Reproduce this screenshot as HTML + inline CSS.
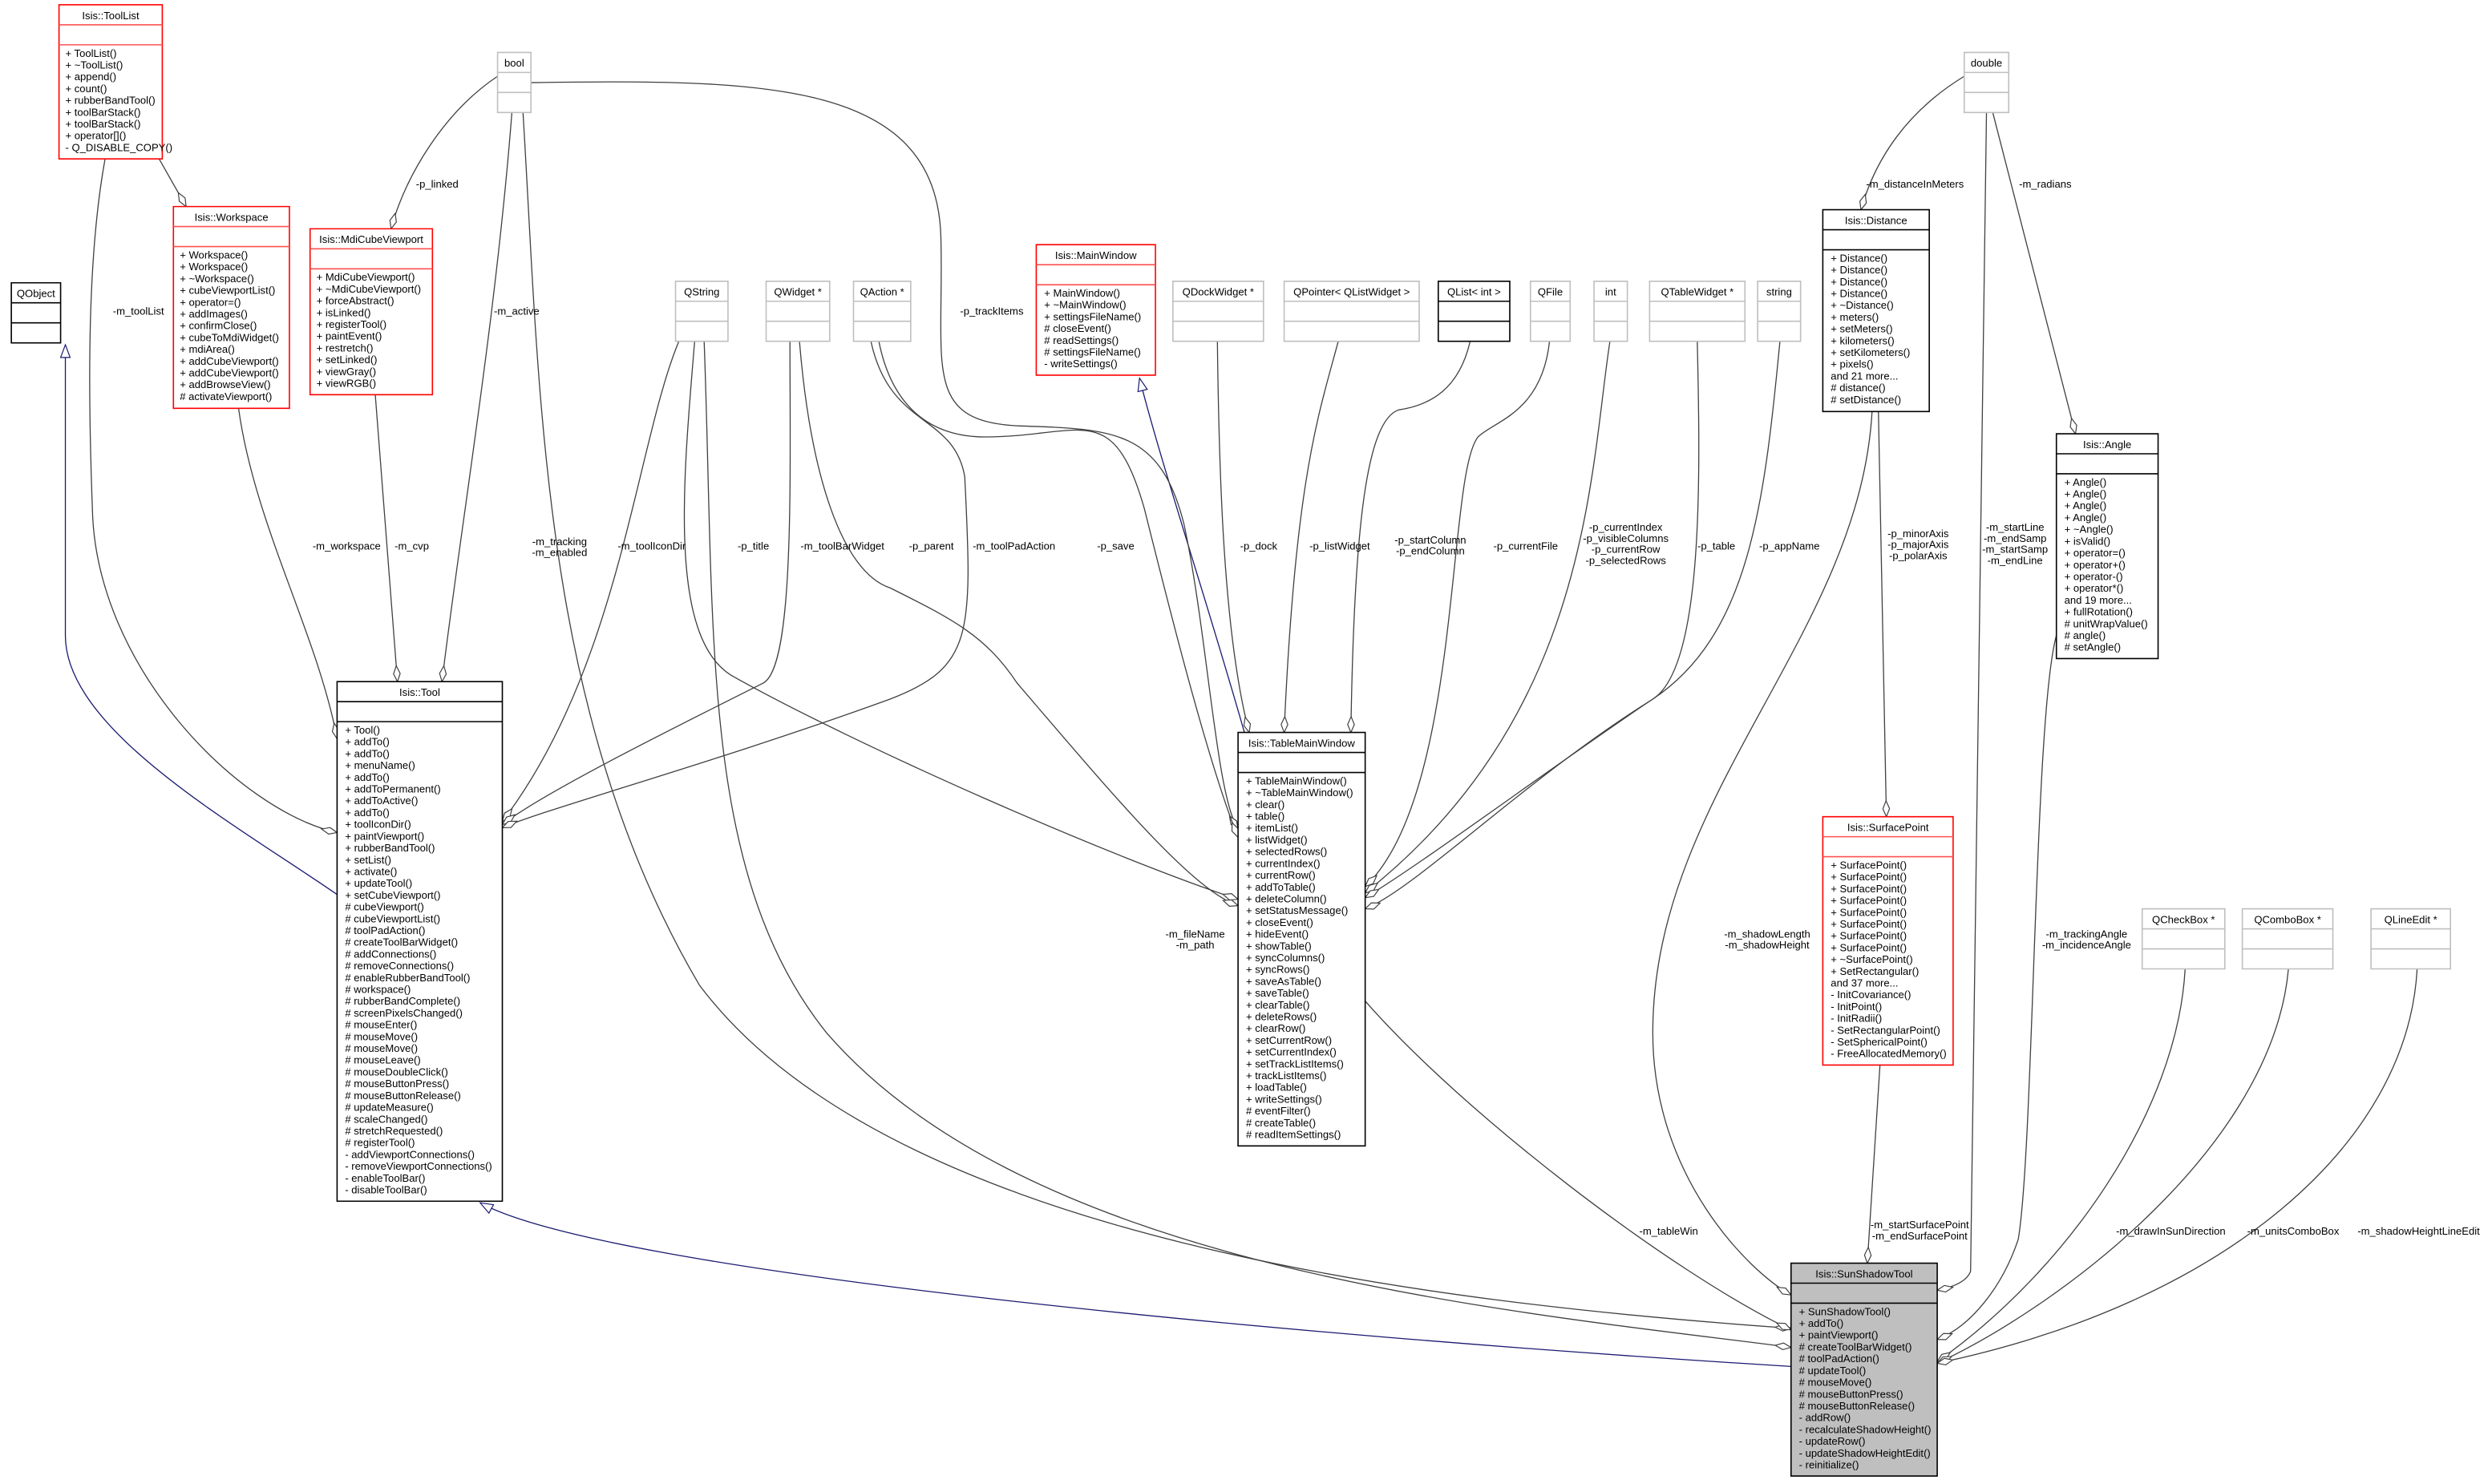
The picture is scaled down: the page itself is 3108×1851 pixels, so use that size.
<!DOCTYPE html>
<html><head><meta charset="utf-8"><style>
html,body{margin:0;padding:0;background:#fff;}
svg{display:block;}
text{font-family:"Liberation Sans",sans-serif;font-size:6.6px;fill:#000;}
.e{fill:none;stroke:#404040;stroke-width:1.3;vector-effect:non-scaling-stroke;}
.n{fill:none;stroke:#191970;stroke-width:1.3;vector-effect:non-scaling-stroke;}
.bk{fill:#fff;stroke:#000;stroke-width:1.6;vector-effect:non-scaling-stroke;}
.rd{fill:#fff;stroke:#ff0000;stroke-width:1.6;vector-effect:non-scaling-stroke;}
.gy{fill:#fff;stroke:#bfbfbf;stroke-width:1.6;vector-effect:non-scaling-stroke;}
.lk{stroke:#000;stroke-width:1.6;vector-effect:non-scaling-stroke;}
.lr{stroke:#ff5050;stroke-width:1.6;vector-effect:non-scaling-stroke;}
.lg{stroke:#bfbfbf;stroke-width:1.6;vector-effect:non-scaling-stroke;}
.c{text-anchor:middle;}
</style></head><body>
<svg width="3108" height="1851" viewBox="0 0 1568 934" xmlns="http://www.w3.org/2000/svg">
<defs>
<marker id="d" markerUnits="userSpaceOnUse" markerWidth="12" markerHeight="6" refX="11" refY="3" orient="auto"><path d="M1,3 L6,0.9 L11,3 L6,5.1 Z" fill="#fff" stroke="#404040" stroke-width="0.6"/></marker>
<marker id="t" markerUnits="userSpaceOnUse" markerWidth="10" markerHeight="8" refX="9" refY="4" orient="auto"><path d="M1,1 L9,4 L1,7 Z" fill="#fff" stroke="#191970" stroke-width="0.6"/></marker>
</defs>

<!-- edges -->
<path class="n" marker-end="url(#t)" d="M212,563 C150,520 41,460 41,400 L41,217"/>
<path class="n" marker-end="url(#t)" d="M1127,860 C800,840 380,800 302,757"/>
<path class="n" marker-end="url(#t)" d="M783,461 C760,380 730,290 717,238"/>

<path class="e" marker-end="url(#d)" d="M66,100 C55,160 55,240 58,320 C60,420 150,510 212,524"/>
<path class="e" marker-end="url(#d)" d="M100,100 L117,130"/>
<path class="e" marker-end="url(#d)" d="M150,257 C160,330 200,400 212,465"/>
<path class="e" marker-end="url(#d)" d="M236,248 L250,429"/>
<path class="e" marker-end="url(#d)" d="M313,48 C280,70 255,110 246,144"/>
<path class="e" marker-end="url(#d)" d="M322,71 C312,200 290,330 278,429"/>
<path class="e" marker-end="url(#d)" d="M329,71 C340,250 340,450 440,620 C560,780 900,820 1127,836"/>
<path class="e" marker-end="url(#d)" d="M334,52 C480,50 590,50 592,150 C594,230 580,265 640,268 C700,270 730,270 745,330 C760,400 765,500 779,522"/>
<path class="e" marker-end="url(#d)" d="M427,215 C400,280 390,420 316,517"/>
<path class="e" marker-end="url(#d)" d="M437,215 C430,300 420,400 460,425 C540,470 700,540 779,566"/>
<path class="e" marker-end="url(#d)" d="M443,215 C450,400 440,550 520,650 C650,800 950,825 1127,848"/>
<path class="e" marker-end="url(#d)" d="M497,215 C497,300 500,420 480,430 C420,460 340,500 316,519"/>
<path class="e" marker-end="url(#d)" d="M503,215 C510,300 530,360 560,370 C600,390 620,400 640,430 C700,500 750,560 779,570"/>
<path class="e" marker-end="url(#d)" d="M548,215 C560,270 600,260 607,300 C612,400 612,420 560,440 C450,480 340,510 316,521"/>
<path class="e" marker-end="url(#d)" d="M553,215 C560,250 580,275 620,275 C680,275 700,250 720,320 C735,380 760,480 779,527"/>
<path class="e" marker-end="url(#d)" d="M766,215 C767,300 770,400 786,461"/>
<path class="e" marker-end="url(#d)" d="M842,215 C830,260 815,300 808,461"/>
<path class="e" marker-end="url(#d)" d="M925,215 C918,245 900,255 880,258 C860,265 852,330 850,461"/>
<path class="e" marker-end="url(#d)" d="M975,215 C970,260 940,265 930,275 C910,300 920,500 859,558"/>
<path class="e" marker-end="url(#d)" d="M1013,215 C1000,300 1000,450 859,562"/>
<path class="e" marker-end="url(#d)" d="M1068,215 C1070,300 1072,420 1040,440 C980,480 900,540 859,565"/>
<path class="e" marker-end="url(#d)" d="M1120,215 C1110,320 1100,400 1040,440 C960,490 890,560 859,572"/>
<path class="e" marker-end="url(#d)" d="M1236,48 C1200,70 1180,100 1171,132"/>
<path class="e" marker-end="url(#d)" d="M1254,71 L1306,273"/>
<path class="e" marker-end="url(#d)" d="M1250,71 L1240,800 C1238,806 1230,810 1219,812"/>
<path class="e" marker-end="url(#d)" d="M1182,259 L1187,514"/>
<path class="e" marker-end="url(#d)" d="M1178,259 C1170,400 1040,500 1040,650 C1040,740 1100,800 1127,815"/>
<path class="e" marker-end="url(#d)" d="M859,630 C920,700 1050,800 1127,837"/>
<path class="e" marker-end="url(#d)" d="M1183,670 L1175,795"/>
<path class="e" marker-end="url(#d)" d="M1294,400 C1280,450 1280,720 1270,780 C1260,810 1240,835 1219,843"/>
<path class="e" marker-end="url(#d)" d="M1375,610 C1370,700 1300,800 1219,857"/>
<path class="e" marker-end="url(#d)" d="M1440,610 C1430,720 1300,820 1219,858"/>
<path class="e" marker-end="url(#d)" d="M1521,610 C1515,720 1400,820 1219,858"/>

<!-- edge labels -->
<text class="c" x="87" y="198">-m_toolList</text>
<text class="c" x="132" y="150">-m_tools</text>
<text class="c" x="275" y="118">-p_linked</text>
<text class="c" x="325" y="198">-m_active</text>
<text class="c" x="218" y="346">-m_workspace</text>
<text class="c" x="259" y="346">-m_cvp</text>
<text class="c" x="352" y="343">-m_tracking</text><text class="c" x="352" y="350">-m_enabled</text>
<text class="c" x="410" y="346">-m_toolIconDir</text>
<text class="c" x="474" y="346">-p_title</text>
<text class="c" x="530" y="346">-m_toolBarWidget</text>
<text class="c" x="586" y="346">-p_parent</text>
<text class="c" x="638" y="346">-m_toolPadAction</text>
<text class="c" x="624" y="198">-p_trackItems</text>
<text class="c" x="702" y="346">-p_save</text>
<text class="c" x="792" y="346">-p_dock</text>
<text class="c" x="843" y="346">-p_listWidget</text>
<text class="c" x="900" y="342">-p_startColumn</text><text class="c" x="900" y="349">-p_endColumn</text>
<text class="c" x="960" y="346">-p_currentFile</text>
<text class="c" x="1023" y="334">-p_currentIndex</text><text class="c" x="1023" y="341">-p_visibleColumns</text><text class="c" x="1023" y="348">-p_currentRow</text><text class="c" x="1023" y="355">-p_selectedRows</text>
<text class="c" x="1080" y="346">-p_table</text>
<text class="c" x="1126" y="346">-p_appName</text>
<text class="c" x="1205" y="118">-m_distanceInMeters</text>
<text class="c" x="1287" y="118">-m_radians</text>
<text class="c" x="1268" y="334">-m_startLine</text><text class="c" x="1268" y="341">-m_endSamp</text><text class="c" x="1268" y="348">-m_startSamp</text><text class="c" x="1268" y="355">-m_endLine</text>
<text class="c" x="1207" y="338">-p_minorAxis</text><text class="c" x="1207" y="345">-p_majorAxis</text><text class="c" x="1207" y="352">-p_polarAxis</text>
<text class="c" x="1112" y="590">-m_shadowLength</text><text class="c" x="1112" y="597">-m_shadowHeight</text>
<text class="c" x="752" y="590">-m_fileName</text><text class="c" x="752" y="597">-m_path</text>
<text class="c" x="1050" y="777">-m_tableWin</text>
<text class="c" x="1208" y="773">-m_startSurfacePoint</text><text class="c" x="1208" y="780">-m_endSurfacePoint</text>
<text class="c" x="1313" y="590">-m_trackingAngle</text><text class="c" x="1313" y="597">-m_incidenceAngle</text>
<text class="c" x="1366" y="777">-m_drawInSunDirection</text>
<text class="c" x="1443" y="777">-m_unitsComboBox</text>
<text class="c" x="1522" y="777">-m_shadowHeightLineEdit</text>

<!-- ToolList -->
<rect class="rd" x="37" y="3" width="65" height="97"/>
<line class="lr" x1="37" y1="15.6" x2="102" y2="15.6"/><line class="lr" x1="37" y1="28.2" x2="102" y2="28.2"/>
<text class="c" x="69.5" y="12">Isis::ToolList</text>
<text x="41" y="35.7"><tspan x="41">+ ToolList()</tspan><tspan x="41" dy="7.42">+ ~ToolList()</tspan><tspan x="41" dy="7.42">+ append()</tspan><tspan x="41" dy="7.42">+ count()</tspan><tspan x="41" dy="7.42">+ rubberBandTool()</tspan><tspan x="41" dy="7.42">+ toolBarStack()</tspan><tspan x="41" dy="7.42">+ toolBarStack()</tspan><tspan x="41" dy="7.42">+ operator[]()</tspan><tspan x="41" dy="7.42">- Q_DISABLE_COPY()</tspan></text>

<!-- Workspace -->
<rect class="rd" x="109" y="130" width="73" height="127"/>
<line class="lr" x1="109" y1="142.6" x2="182" y2="142.6"/><line class="lr" x1="109" y1="155.2" x2="182" y2="155.2"/>
<text class="c" x="145.5" y="139">Isis::Workspace</text>
<text x="113" y="162.7"><tspan x="113">+ Workspace()</tspan><tspan x="113" dy="7.42">+ Workspace()</tspan><tspan x="113" dy="7.42">+ ~Workspace()</tspan><tspan x="113" dy="7.42">+ cubeViewportList()</tspan><tspan x="113" dy="7.42">+ operator=()</tspan><tspan x="113" dy="7.42">+ addImages()</tspan><tspan x="113" dy="7.42">+ confirmClose()</tspan><tspan x="113" dy="7.42">+ cubeToMdiWidget()</tspan><tspan x="113" dy="7.42">+ mdiArea()</tspan><tspan x="113" dy="7.42">+ addCubeViewport()</tspan><tspan x="113" dy="7.42">+ addCubeViewport()</tspan><tspan x="113" dy="7.42">+ addBrowseView()</tspan><tspan x="113" dy="7.42"># activateViewport()</tspan></text>

<!-- MdiCubeViewport -->
<rect class="rd" x="195" y="144" width="77" height="104.4"/>
<line class="lr" x1="195" y1="156.6" x2="272" y2="156.6"/><line class="lr" x1="195" y1="169.2" x2="272" y2="169.2"/>
<text class="c" x="233.5" y="153">Isis::MdiCubeViewport</text>
<text x="199" y="176.7"><tspan x="199">+ MdiCubeViewport()</tspan><tspan x="199" dy="7.42">+ ~MdiCubeViewport()</tspan><tspan x="199" dy="7.42">+ forceAbstract()</tspan><tspan x="199" dy="7.42">+ isLinked()</tspan><tspan x="199" dy="7.42">+ registerTool()</tspan><tspan x="199" dy="7.42">+ paintEvent()</tspan><tspan x="199" dy="7.42">+ restretch()</tspan><tspan x="199" dy="7.42">+ setLinked()</tspan><tspan x="199" dy="7.42">+ viewGray()</tspan><tspan x="199" dy="7.42">+ viewRGB()</tspan></text>

<!-- simple boxes -->
<rect class="gy" x="313" y="33" width="21" height="37.8"/><line class="lg" x1="313" y1="45.6" x2="334" y2="45.6"/><line class="lg" x1="313" y1="58.2" x2="334" y2="58.2"/><text class="c" x="323.5" y="42">bool</text>
<rect class="bk" x="7" y="178" width="31" height="37.8"/><line class="lk" x1="7" y1="190.6" x2="38" y2="190.6"/><line class="lk" x1="7" y1="203.2" x2="38" y2="203.2"/><text class="c" x="22.5" y="187">QObject</text>
<rect class="gy" x="425" y="177" width="33" height="37.8"/><line class="lg" x1="425" y1="189.6" x2="458" y2="189.6"/><line class="lg" x1="425" y1="202.2" x2="458" y2="202.2"/><text class="c" x="441.5" y="186">QString</text>
<rect class="gy" x="482" y="177" width="40" height="37.8"/><line class="lg" x1="482" y1="189.6" x2="522" y2="189.6"/><line class="lg" x1="482" y1="202.2" x2="522" y2="202.2"/><text class="c" x="502" y="186">QWidget *</text>
<rect class="gy" x="537" y="177" width="36" height="37.8"/><line class="lg" x1="537" y1="189.6" x2="573" y2="189.6"/><line class="lg" x1="537" y1="202.2" x2="573" y2="202.2"/><text class="c" x="555" y="186">QAction *</text>
<rect class="gy" x="738" y="177" width="57" height="37.8"/><line class="lg" x1="738" y1="189.6" x2="795" y2="189.6"/><line class="lg" x1="738" y1="202.2" x2="795" y2="202.2"/><text class="c" x="766.5" y="186">QDockWidget *</text>
<rect class="gy" x="808" y="177" width="85" height="37.8"/><line class="lg" x1="808" y1="189.6" x2="893" y2="189.6"/><line class="lg" x1="808" y1="202.2" x2="893" y2="202.2"/><text class="c" x="850.5" y="186">QPointer&lt; QListWidget &gt;</text>
<rect class="bk" x="905" y="177" width="45" height="37.8"/><line class="lk" x1="905" y1="189.6" x2="950" y2="189.6"/><line class="lk" x1="905" y1="202.2" x2="950" y2="202.2"/><text class="c" x="927.5" y="186">QList&lt; int &gt;</text>
<rect class="gy" x="963" y="177" width="25" height="37.8"/><line class="lg" x1="963" y1="189.6" x2="988" y2="189.6"/><line class="lg" x1="963" y1="202.2" x2="988" y2="202.2"/><text class="c" x="975.5" y="186">QFile</text>
<rect class="gy" x="1003" y="177" width="21" height="37.8"/><line class="lg" x1="1003" y1="189.6" x2="1024" y2="189.6"/><line class="lg" x1="1003" y1="202.2" x2="1024" y2="202.2"/><text class="c" x="1013.5" y="186">int</text>
<rect class="gy" x="1038" y="177" width="60" height="37.8"/><line class="lg" x1="1038" y1="189.6" x2="1098" y2="189.6"/><line class="lg" x1="1038" y1="202.2" x2="1098" y2="202.2"/><text class="c" x="1068" y="186">QTableWidget *</text>
<rect class="gy" x="1106" y="177" width="27" height="37.8"/><line class="lg" x1="1106" y1="189.6" x2="1133" y2="189.6"/><line class="lg" x1="1106" y1="202.2" x2="1133" y2="202.2"/><text class="c" x="1119.5" y="186">string</text>
<rect class="gy" x="1236" y="33" width="28" height="37.8"/><line class="lg" x1="1236" y1="45.6" x2="1264" y2="45.6"/><line class="lg" x1="1236" y1="58.2" x2="1264" y2="58.2"/><text class="c" x="1250" y="42">double</text>
<rect class="gy" x="1348" y="572" width="52" height="37.8"/><line class="lg" x1="1348" y1="584.6" x2="1400" y2="584.6"/><line class="lg" x1="1348" y1="597.2" x2="1400" y2="597.2"/><text class="c" x="1374" y="581">QCheckBox *</text>
<rect class="gy" x="1411" y="572" width="57" height="37.8"/><line class="lg" x1="1411" y1="584.6" x2="1468" y2="584.6"/><line class="lg" x1="1411" y1="597.2" x2="1468" y2="597.2"/><text class="c" x="1439.5" y="581">QComboBox *</text>
<rect class="gy" x="1492" y="572" width="50" height="37.8"/><line class="lg" x1="1492" y1="584.6" x2="1542" y2="584.6"/><line class="lg" x1="1492" y1="597.2" x2="1542" y2="597.2"/><text class="c" x="1517" y="581">QLineEdit *</text>

<!-- Tool -->
<rect class="bk" x="212" y="429" width="104" height="327"/>
<line class="lk" x1="212" y1="441.6" x2="316" y2="441.6"/><line class="lk" x1="212" y1="454.2" x2="316" y2="454.2"/>
<text class="c" x="264" y="438">Isis::Tool</text>
<text x="217" y="461.7"><tspan x="217">+ Tool()</tspan><tspan x="217" dy="7.42">+ addTo()</tspan><tspan x="217" dy="7.42">+ addTo()</tspan><tspan x="217" dy="7.42">+ menuName()</tspan><tspan x="217" dy="7.42">+ addTo()</tspan><tspan x="217" dy="7.42">+ addToPermanent()</tspan><tspan x="217" dy="7.42">+ addToActive()</tspan><tspan x="217" dy="7.42">+ addTo()</tspan><tspan x="217" dy="7.42">+ toolIconDir()</tspan><tspan x="217" dy="7.42">+ paintViewport()</tspan><tspan x="217" dy="7.42">+ rubberBandTool()</tspan><tspan x="217" dy="7.42">+ setList()</tspan><tspan x="217" dy="7.42">+ activate()</tspan><tspan x="217" dy="7.42">+ updateTool()</tspan><tspan x="217" dy="7.42">+ setCubeViewport()</tspan><tspan x="217" dy="7.42"># cubeViewport()</tspan><tspan x="217" dy="7.42"># cubeViewportList()</tspan><tspan x="217" dy="7.42"># toolPadAction()</tspan><tspan x="217" dy="7.42"># createToolBarWidget()</tspan><tspan x="217" dy="7.42"># addConnections()</tspan><tspan x="217" dy="7.42"># removeConnections()</tspan><tspan x="217" dy="7.42"># enableRubberBandTool()</tspan><tspan x="217" dy="7.42"># workspace()</tspan><tspan x="217" dy="7.42"># rubberBandComplete()</tspan><tspan x="217" dy="7.42"># screenPixelsChanged()</tspan><tspan x="217" dy="7.42"># mouseEnter()</tspan><tspan x="217" dy="7.42"># mouseMove()</tspan><tspan x="217" dy="7.42"># mouseMove()</tspan><tspan x="217" dy="7.42"># mouseLeave()</tspan><tspan x="217" dy="7.42"># mouseDoubleClick()</tspan><tspan x="217" dy="7.42"># mouseButtonPress()</tspan><tspan x="217" dy="7.42"># mouseButtonRelease()</tspan><tspan x="217" dy="7.42"># updateMeasure()</tspan><tspan x="217" dy="7.42"># scaleChanged()</tspan><tspan x="217" dy="7.42"># stretchRequested()</tspan><tspan x="217" dy="7.42"># registerTool()</tspan><tspan x="217" dy="7.42">- addViewportConnections()</tspan><tspan x="217" dy="7.42">- removeViewportConnections()</tspan><tspan x="217" dy="7.42">- enableToolBar()</tspan><tspan x="217" dy="7.42">- disableToolBar()</tspan></text>

<!-- MainWindow -->
<rect class="rd" x="652" y="154" width="75" height="82.1"/>
<line class="lr" x1="652" y1="166.6" x2="727" y2="166.6"/><line class="lr" x1="652" y1="179.2" x2="727" y2="179.2"/>
<text class="c" x="689.5" y="163">Isis::MainWindow</text>
<text x="657" y="186.7"><tspan x="657">+ MainWindow()</tspan><tspan x="657" dy="7.42">+ ~MainWindow()</tspan><tspan x="657" dy="7.42">+ settingsFileName()</tspan><tspan x="657" dy="7.42"># closeEvent()</tspan><tspan x="657" dy="7.42"># readSettings()</tspan><tspan x="657" dy="7.42"># settingsFileName()</tspan><tspan x="657" dy="7.42">- writeSettings()</tspan></text>

<!-- TableMainWindow -->
<rect class="bk" x="779" y="461" width="80" height="260.2"/>
<line class="lk" x1="779" y1="473.6" x2="859" y2="473.6"/><line class="lk" x1="779" y1="486.2" x2="859" y2="486.2"/>
<text class="c" x="819" y="470">Isis::TableMainWindow</text>
<text x="784" y="493.7"><tspan x="784">+ TableMainWindow()</tspan><tspan x="784" dy="7.42">+ ~TableMainWindow()</tspan><tspan x="784" dy="7.42">+ clear()</tspan><tspan x="784" dy="7.42">+ table()</tspan><tspan x="784" dy="7.42">+ itemList()</tspan><tspan x="784" dy="7.42">+ listWidget()</tspan><tspan x="784" dy="7.42">+ selectedRows()</tspan><tspan x="784" dy="7.42">+ currentIndex()</tspan><tspan x="784" dy="7.42">+ currentRow()</tspan><tspan x="784" dy="7.42">+ addToTable()</tspan><tspan x="784" dy="7.42">+ deleteColumn()</tspan><tspan x="784" dy="7.42">+ setStatusMessage()</tspan><tspan x="784" dy="7.42">+ closeEvent()</tspan><tspan x="784" dy="7.42">+ hideEvent()</tspan><tspan x="784" dy="7.42">+ showTable()</tspan><tspan x="784" dy="7.42">+ syncColumns()</tspan><tspan x="784" dy="7.42">+ syncRows()</tspan><tspan x="784" dy="7.42">+ saveAsTable()</tspan><tspan x="784" dy="7.42">+ saveTable()</tspan><tspan x="784" dy="7.42">+ clearTable()</tspan><tspan x="784" dy="7.42">+ deleteRows()</tspan><tspan x="784" dy="7.42">+ clearRow()</tspan><tspan x="784" dy="7.42">+ setCurrentRow()</tspan><tspan x="784" dy="7.42">+ setCurrentIndex()</tspan><tspan x="784" dy="7.42">+ setTrackListItems()</tspan><tspan x="784" dy="7.42">+ trackListItems()</tspan><tspan x="784" dy="7.42">+ loadTable()</tspan><tspan x="784" dy="7.42">+ writeSettings()</tspan><tspan x="784" dy="7.42"># eventFilter()</tspan><tspan x="784" dy="7.42"># createTable()</tspan><tspan x="784" dy="7.42"># readItemSettings()</tspan></text>

<!-- Distance -->
<rect class="bk" x="1147" y="132" width="67" height="127"/>
<line class="lk" x1="1147" y1="144.6" x2="1214" y2="144.6"/><line class="lk" x1="1147" y1="157.2" x2="1214" y2="157.2"/>
<text class="c" x="1180.5" y="141">Isis::Distance</text>
<text x="1152" y="164.7"><tspan x="1152">+ Distance()</tspan><tspan x="1152" dy="7.42">+ Distance()</tspan><tspan x="1152" dy="7.42">+ Distance()</tspan><tspan x="1152" dy="7.42">+ Distance()</tspan><tspan x="1152" dy="7.42">+ ~Distance()</tspan><tspan x="1152" dy="7.42">+ meters()</tspan><tspan x="1152" dy="7.42">+ setMeters()</tspan><tspan x="1152" dy="7.42">+ kilometers()</tspan><tspan x="1152" dy="7.42">+ setKilometers()</tspan><tspan x="1152" dy="7.42">+ pixels()</tspan><tspan x="1152" dy="7.42">and 21 more...</tspan><tspan x="1152" dy="7.42"># distance()</tspan><tspan x="1152" dy="7.42"># setDistance()</tspan></text>

<!-- Angle -->
<rect class="bk" x="1294" y="273" width="64" height="141.5"/>
<line class="lk" x1="1294" y1="285.6" x2="1358" y2="285.6"/><line class="lk" x1="1294" y1="298.2" x2="1358" y2="298.2"/>
<text class="c" x="1326" y="282">Isis::Angle</text>
<text x="1299" y="305.7"><tspan x="1299">+ Angle()</tspan><tspan x="1299" dy="7.42">+ Angle()</tspan><tspan x="1299" dy="7.42">+ Angle()</tspan><tspan x="1299" dy="7.42">+ Angle()</tspan><tspan x="1299" dy="7.42">+ ~Angle()</tspan><tspan x="1299" dy="7.42">+ isValid()</tspan><tspan x="1299" dy="7.42">+ operator=()</tspan><tspan x="1299" dy="7.42">+ operator+()</tspan><tspan x="1299" dy="7.42">+ operator-()</tspan><tspan x="1299" dy="7.42">+ operator*()</tspan><tspan x="1299" dy="7.42">and 19 more...</tspan><tspan x="1299" dy="7.42">+ fullRotation()</tspan><tspan x="1299" dy="7.42"># unitWrapValue()</tspan><tspan x="1299" dy="7.42"># angle()</tspan><tspan x="1299" dy="7.42"># setAngle()</tspan></text>

<!-- SurfacePoint -->
<rect class="rd" x="1147" y="514" width="82" height="156.3"/>
<line class="lr" x1="1147" y1="526.6" x2="1229" y2="526.6"/><line class="lr" x1="1147" y1="539.2" x2="1229" y2="539.2"/>
<text class="c" x="1188" y="523">Isis::SurfacePoint</text>
<text x="1152" y="546.7"><tspan x="1152">+ SurfacePoint()</tspan><tspan x="1152" dy="7.42">+ SurfacePoint()</tspan><tspan x="1152" dy="7.42">+ SurfacePoint()</tspan><tspan x="1152" dy="7.42">+ SurfacePoint()</tspan><tspan x="1152" dy="7.42">+ SurfacePoint()</tspan><tspan x="1152" dy="7.42">+ SurfacePoint()</tspan><tspan x="1152" dy="7.42">+ SurfacePoint()</tspan><tspan x="1152" dy="7.42">+ SurfacePoint()</tspan><tspan x="1152" dy="7.42">+ ~SurfacePoint()</tspan><tspan x="1152" dy="7.42">+ SetRectangular()</tspan><tspan x="1152" dy="7.42">and 37 more...</tspan><tspan x="1152" dy="7.42">- InitCovariance()</tspan><tspan x="1152" dy="7.42">- InitPoint()</tspan><tspan x="1152" dy="7.42">- InitRadii()</tspan><tspan x="1152" dy="7.42">- SetRectangularPoint()</tspan><tspan x="1152" dy="7.42">- SetSphericalPoint()</tspan><tspan x="1152" dy="7.42">- FreeAllocatedMemory()</tspan></text>

<!-- SunShadowTool -->
<rect x="1127" y="795" width="92" height="134" fill="#bfbfbf" stroke="#000" stroke-width="1.6" vector-effect="non-scaling-stroke"/>
<line class="lk" x1="1127" y1="807.6" x2="1219" y2="807.6"/><line class="lk" x1="1127" y1="820.2" x2="1219" y2="820.2"/>
<text class="c" x="1173" y="804">Isis::SunShadowTool</text>
<text x="1132" y="827.7"><tspan x="1132">+ SunShadowTool()</tspan><tspan x="1132" dy="7.42">+ addTo()</tspan><tspan x="1132" dy="7.42">+ paintViewport()</tspan><tspan x="1132" dy="7.42"># createToolBarWidget()</tspan><tspan x="1132" dy="7.42"># toolPadAction()</tspan><tspan x="1132" dy="7.42"># updateTool()</tspan><tspan x="1132" dy="7.42"># mouseMove()</tspan><tspan x="1132" dy="7.42"># mouseButtonPress()</tspan><tspan x="1132" dy="7.42"># mouseButtonRelease()</tspan><tspan x="1132" dy="7.42">- addRow()</tspan><tspan x="1132" dy="7.42">- recalculateShadowHeight()</tspan><tspan x="1132" dy="7.42">- updateRow()</tspan><tspan x="1132" dy="7.42">- updateShadowHeightEdit()</tspan><tspan x="1132" dy="7.42">- reinitialize()</tspan></text>
</svg>
</body></html>
